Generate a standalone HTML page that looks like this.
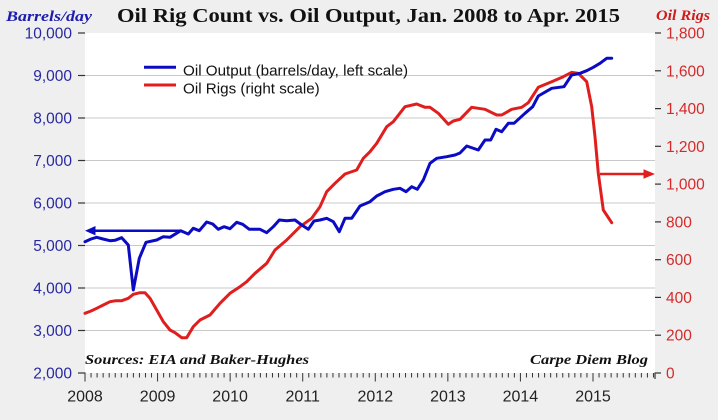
<!DOCTYPE html>
<html>
<head>
<meta charset="utf-8">
<style>
  html,body{margin:0;padding:0;background:#efefef;}
  svg{display:block;}
</style>
</head>
<body>
<svg width="718" height="420" viewBox="0 0 718 420" xmlns="http://www.w3.org/2000/svg">
  <rect x="0" y="0" width="718" height="420" fill="#efefef"/>
  <rect x="85" y="33" width="570" height="340" fill="#ffffff"/>

  <!-- gridlines -->
  <g stroke="#c8c8c8" stroke-width="1">
    <line x1="85" y1="75.5" x2="655" y2="75.5"/>
    <line x1="85" y1="118" x2="655" y2="118"/>
    <line x1="85" y1="160.5" x2="655" y2="160.5"/>
    <line x1="85" y1="203" x2="655" y2="203"/>
    <line x1="85" y1="245.5" x2="655" y2="245.5"/>
    <line x1="85" y1="288" x2="655" y2="288"/>
    <line x1="85" y1="330.5" x2="655" y2="330.5"/>
  </g>

  <!-- left ticks -->
  <g stroke="#333" stroke-width="1.2">
    <line x1="78" y1="33" x2="85" y2="33"/>
    <line x1="78" y1="75.5" x2="85" y2="75.5"/>
    <line x1="78" y1="118" x2="85" y2="118"/>
    <line x1="78" y1="160.5" x2="85" y2="160.5"/>
    <line x1="78" y1="203" x2="85" y2="203"/>
    <line x1="78" y1="245.5" x2="85" y2="245.5"/>
    <line x1="78" y1="288" x2="85" y2="288"/>
    <line x1="78" y1="330.5" x2="85" y2="330.5"/>
    <line x1="78" y1="373" x2="85.5" y2="373"/>
  </g>
  <!-- right ticks -->
  <g stroke="#333" stroke-width="1.2">
    <line x1="655" y1="33" x2="661" y2="33"/>
    <line x1="655" y1="70.8" x2="661" y2="70.8"/>
    <line x1="655" y1="108.6" x2="661" y2="108.6"/>
    <line x1="655" y1="146.3" x2="661" y2="146.3"/>
    <line x1="655" y1="184.1" x2="661" y2="184.1"/>
    <line x1="655" y1="221.9" x2="661" y2="221.9"/>
    <line x1="655" y1="259.7" x2="661" y2="259.7"/>
    <line x1="655" y1="297.4" x2="661" y2="297.4"/>
    <line x1="655" y1="335.2" x2="661" y2="335.2"/>
    <line x1="654.5" y1="373" x2="661" y2="373"/>
    <line x1="655" y1="373" x2="655" y2="379"/>
  </g>

  <!-- bottom ticks -->
  <g id="xt" stroke="#333" stroke-width="1"></g>

  <!-- left labels -->
  <g font-family="Liberation Sans, Arial, sans-serif" font-size="15.5" fill="#2828a4" text-anchor="end">
    <text x="72" y="38.5">10,000</text>
    <text x="72" y="81">9,000</text>
    <text x="72" y="123.5">8,000</text>
    <text x="72" y="166">7,000</text>
    <text x="72" y="208.5">6,000</text>
    <text x="72" y="251">5,000</text>
    <text x="72" y="293.5">4,000</text>
    <text x="72" y="336">3,000</text>
    <text x="72" y="378.5">2,000</text>
  </g>
  <!-- right labels -->
  <g font-family="Liberation Sans, Arial, sans-serif" font-size="15.5" fill="#d42a2a" text-anchor="start">
    <text x="666" y="38.5">1,800</text>
    <text x="666" y="76.3">1,600</text>
    <text x="666" y="114.1">1,400</text>
    <text x="666" y="151.8">1,200</text>
    <text x="666" y="189.6">1,000</text>
    <text x="666" y="227.4">800</text>
    <text x="666" y="265.2">600</text>
    <text x="666" y="302.9">400</text>
    <text x="666" y="340.7">200</text>
    <text x="666" y="378.5">0</text>
  </g>
  <!-- year labels -->
  <g font-family="Liberation Sans, Arial, sans-serif" font-size="16" fill="#222" text-anchor="middle">
    <text x="85" y="401.5">2008</text>
    <text x="157.6" y="401.5">2009</text>
    <text x="230.1" y="401.5">2010</text>
    <text x="302.7" y="401.5">2011</text>
    <text x="375.3" y="401.5">2012</text>
    <text x="447.9" y="401.5">2013</text>
    <text x="520.4" y="401.5">2014</text>
    <text x="593" y="401.5">2015</text>
  </g>

  <!-- titles -->
  <text x="117" y="22" font-family="Liberation Serif, Georgia, serif" font-weight="bold" font-size="20" fill="#111" textLength="503" lengthAdjust="spacingAndGlyphs">Oil Rig Count vs. Oil Output, Jan. 2008 to Apr. 2015</text>
  <text x="6" y="21" font-family="Liberation Serif, Georgia, serif" font-weight="bold" font-style="italic" font-size="15" fill="#1c1cb0" textLength="86" lengthAdjust="spacingAndGlyphs">Barrels/day</text>
  <text x="656" y="20" font-family="Liberation Serif, Georgia, serif" font-weight="bold" font-style="italic" font-size="15" fill="#d01c1c" textLength="54" lengthAdjust="spacingAndGlyphs">Oil Rigs</text>

  <!-- sources -->
  <text x="85" y="364" font-family="Liberation Serif, Georgia, serif" font-weight="bold" font-style="italic" font-size="14" fill="#111" textLength="224" lengthAdjust="spacingAndGlyphs">Sources: EIA and Baker-Hughes</text>
  <text x="530" y="364" font-family="Liberation Serif, Georgia, serif" font-weight="bold" font-style="italic" font-size="14" fill="#111" textLength="118" lengthAdjust="spacingAndGlyphs">Carpe Diem Blog</text>

  <!-- legend -->
  <line x1="144" y1="67.3" x2="176" y2="67.3" stroke="#0b0bc4" stroke-width="3"/>
  <line x1="144" y1="85" x2="176" y2="85" stroke="#e01e1e" stroke-width="3"/>
  <g font-family="Liberation Sans, Arial, sans-serif" font-size="15.2" fill="#111">
    <text x="183" y="75.5">Oil Output (barrels/day, left scale)</text>
    <text x="183" y="93.3">Oil Rigs (right scale)</text>
  </g>

  <!-- red series -->
  <polyline fill="none" stroke="#e01e1e" stroke-width="3" stroke-linejoin="round" stroke-linecap="round" points="85,313.3 91,311 96.7,308.3 103.3,305 110,301.7 116,300.7 121.7,300.7 128.3,298.3 133.3,294.3 140,292.7 145,292.7 150,298.3 156.7,310 163.3,321.7 170,330 175,332.7 181.7,337.7 186.7,337.7 193.3,326.7 200,320 210,315 220,303.3 230,293.3 240,286.7 246.7,281.7 255,273.3 266.7,263.3 275,250 286.7,240 300,226.7 311.7,218.3 320,206.7 326.7,191.7 335,183.3 345,174 356.7,170 363.3,158.3 370,151.7 376.7,143.3 386.7,126.7 393.3,121.7 405,106.7 416.7,104 425,107.3 430,107.3 438.3,113.3 448.3,124.3 453.3,121 460,119.3 471.7,107.3 485,109.3 496.7,115 501.7,115 511.7,109.3 521.7,107.3 528.3,102.7 538.3,87.3 551.7,81.7 563.3,76.7 571.7,72.3 578.3,73.3 586.7,81.7 591.7,106.7 595,136.7 598.3,173.3 603.3,210 611.7,222.7"/>

  <!-- blue series -->
  <polyline fill="none" stroke="#0b0bc4" stroke-width="3" stroke-linejoin="round" stroke-linecap="round" points="85,241.7 91,239 96.7,237.3 103,239 110,240.7 115,240.3 121.7,237.7 128.3,245 133.3,290 139.3,258.3 146,242.3 156.7,240 163.3,236.7 170,237.3 180.7,230.7 188.3,234 193.3,228.3 199.3,230.7 206.7,222 212.7,224 218.3,229.3 224,226.7 230,228.7 236.7,222.3 242.7,224.3 249.3,229.3 260,229.3 266.7,232.7 273.3,226.7 279.3,220 286.7,220.7 295,220 301.7,225 308.3,229.3 314,221 320,220 326.7,218.3 333.3,221.7 339.3,231.7 345,218.3 351.7,218.3 360,206 370,201.7 376.7,196 385,191.7 393.3,189.3 400,188.3 406,191.7 411.7,186.7 417.3,189.3 423.3,180 430,163.3 436.7,158.3 446.7,156.7 455,155 460,153 466.7,146 478.3,150 485,140 490.7,140 496,129.3 501.7,131.7 508.3,123.3 514,123.3 525,113.3 532.7,106.7 538.3,96 551.7,88.3 564,86.7 571.7,75 580,73.3 586.7,70.7 593.3,67.3 600,63.3 606.7,58.3 611.7,58.3"/>

  <!-- arrows -->
  <line x1="94" y1="230.7" x2="180" y2="230.7" stroke="#0b0bc4" stroke-width="2.5"/>
  <polygon points="85,230.7 95.5,226 95.5,235.4" fill="#0b0bc4"/>
  <line x1="600" y1="174" x2="645" y2="174" stroke="#e01e1e" stroke-width="2.5"/>
  <polygon points="655,174 643.5,169.3 643.5,178.7" fill="#e01e1e"/>

  <script>
    (function(){
      var g=document.getElementById('xt');
      var ns='http://www.w3.org/2000/svg';
      for(var m=0;m<=94;m++){
        var x=85+m*72.57/12;
        var l=document.createElementNS(ns,'line');
        var major=(m%12===0);
        l.setAttribute('x1',x.toFixed(2));
        l.setAttribute('x2',x.toFixed(2));
        l.setAttribute('y1',373);
        l.setAttribute('y2',major?381.5:377.5);
        g.appendChild(l);
      }
    })();
  </script>
</svg>
</body>
</html>
